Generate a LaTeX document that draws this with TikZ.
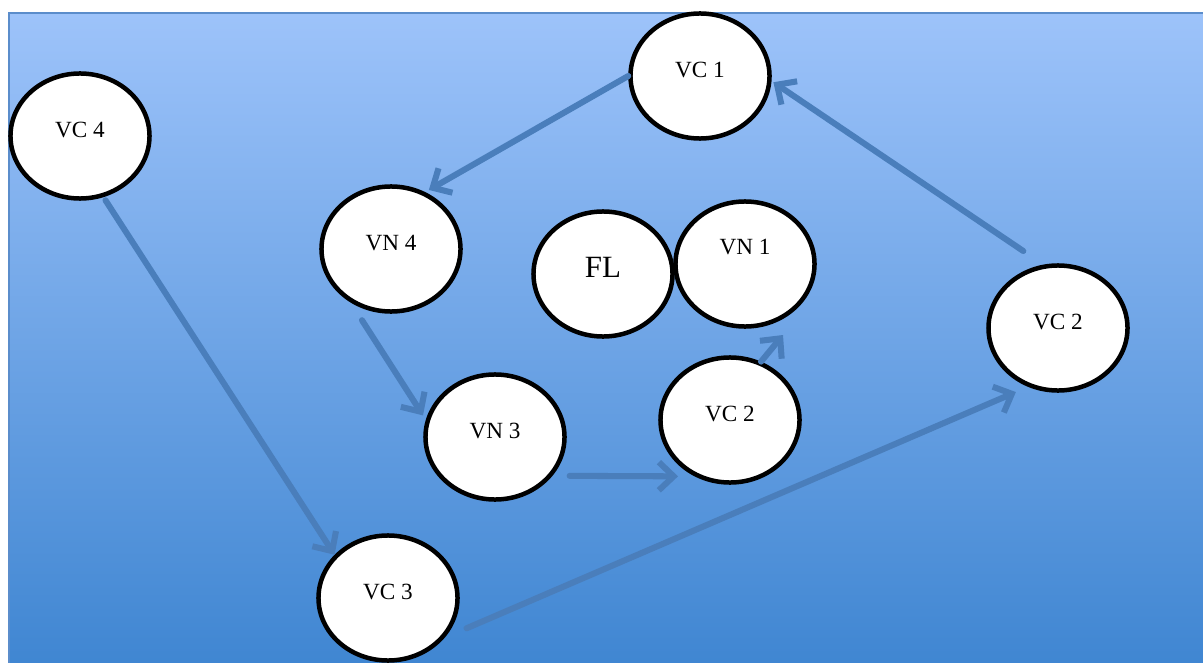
\documentclass[tikz,border=0pt]{standalone}
\usepackage{fontspec}
\setmainfont{Liberation Serif}
\usetikzlibrary{shapes.geometric,arrows.meta}
\definecolor{sheettop}{HTML}{9DC3FA}
\definecolor{sheetbottom}{HTML}{3E85D1}
\definecolor{sheetline}{HTML}{5B8DCB}
\definecolor{flowblue}{HTML}{4A7EBB}
\tikzset{
  vbox/.style={ellipse, draw=black, line width=3.2pt, fill=white,
    minimum width=3.475cm, minimum height=3.125cm, inner sep=0pt,
    font=\fontsize{16.5}{18}\selectfont, text height=11pt, text depth=9.1pt},
  flow/.style={draw=flowblue, line width=4.3pt, line cap=round,
    -{Straight Barb[length=10.5pt,width=20pt]}}
}

\begin{document}
\begin{tikzpicture}[x=0.025cm,y=-0.025cm]
  \useasboundingbox (0,0) rectangle (1203,663);
  \shade[top color=sheettop,bottom color=sheetbottom] (9,13) rectangle (1215,675);
  \draw[sheetline,line width=1pt] (9,675) -- (9,13) -- (1215,13);

  \node[vbox] (vc4) at (80,136) {VC 4};
  \node[vbox] (vc1) at (700,76) {VC 1};
  \node[vbox] (vn4) at (391,249) {VN 4};
  \node[vbox,font=\fontsize{22}{26}\selectfont,text height=15pt,text depth=10.4pt] (fl) at (603,274) {FL};
  \node[vbox,text depth=24pt] (vn1) at (745,264) {VN 1};
  \node[vbox] (vn3) at (495,437) {VN 3};
  \node[vbox] (vc2m) at (730,420) {VC 2};
  \node[vbox] (vc3) at (388,598) {VC 3};
  \node[vbox] (vc2r) at (1058,328) {VC 2};
  \coordinate (vn1foot) at ([shift={(38,71)}]vn1.center);

  \draw[flow,shorten >=3pt] (vc1.180) -- (vn4.59);
  \draw[flow,shorten <=17.2pt,shorten >=1.6pt] (vc2r.103) -- (vc1.-4);
  \draw[flow,shorten <=2.6pt] (vc4.-69) -- (vc3.141);
  \draw[flow,shorten <=14.9pt,shorten >=3.7pt] (vn4.-127) -- (vn3.166);
  \draw[flow,shorten <=12.2pt,shorten >=11.9pt] (vn3.-34) -- (vc2m.-122);
  \draw[flow] (vc2m.62) -- (vn1foot);
  \draw[flow,shorten <=16.9pt,shorten >=9.4pt] (vc3.-35) -- (vc2r.-117);
\end{tikzpicture}
\end{document}
